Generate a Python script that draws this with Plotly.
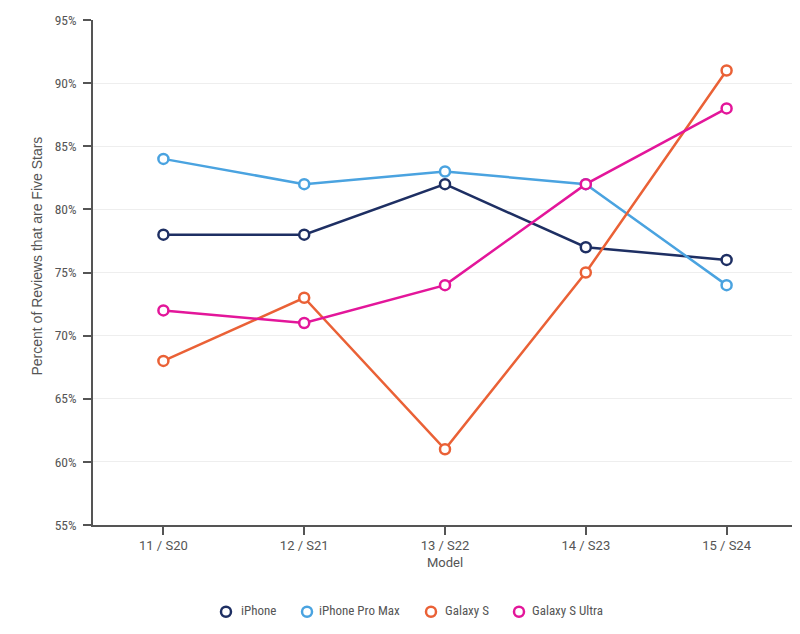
import plotly.graph_objects as go

models = ["11 / S20", "12 / S21", "13 / S22", "14 / S23", "15 / S24"]
iphone = [78, 78, 82, 77, 76]
iphone_pro_max = [84, 82, 83, 82, 74]
galaxy_s = [68, 73, 61, 75, 91]
galaxy_s_ultra = [72, 71, 74, 82, 88]
y_ticks = [55, 60, 65, 70, 75, 80, 85, 90, 95]
y_tick_labels = [f"{v}%" for v in y_ticks]

series = [
    ("iPhone", iphone, "#1e2f63"),
    ("iPhone Pro Max", iphone_pro_max, "#4aa3e0"),
    ("Galaxy S", galaxy_s, "#ea6136"),
    ("Galaxy S Ultra", galaxy_s_ultra, "#e3169a"),
]
legend_x = [0.1605, 0.2756, 0.4517, 0.5767]
legend_text_x = [0.2074, 0.3182, 0.4972, 0.6207]
legend_ids = ["legend", "legend2", "legend3", "legend4"]

fig = go.Figure()
for name, vals, col in series:
    fig.add_trace(go.Scatter(
        x=models, y=vals, mode="lines+markers", name=name, showlegend=False,
        line=dict(color=col, width=2.5),
        marker=dict(size=10, color="white", line=dict(color=col, width=2.5)),
        hovertemplate="%{x}: %{y}%<extra>" + name + "</extra>",
    ))
for (name, vals, col), lid in zip(series, legend_ids):
    fig.add_trace(go.Scatter(
        x=[None], y=[None], mode="markers", name="", legend=lid,
        marker=dict(size=10, color="white", line=dict(color=col, width=2.5)),
    ))

narrow = "'Liberation Sans Narrow', 'Roboto Condensed', Roboto, sans-serif"
roboto = "Roboto, sans-serif"
arial = "'Liberation Sans', Arial, sans-serif"
grey = "#555555"

legend_common = dict(
    orientation="h", xanchor="left", y=-0.143, yanchor="top",
    font=dict(size=12, color=grey), itemwidth=30, bgcolor="rgba(0,0,0,0)",
)
layout_legends = {}
for lid, lx in zip(legend_ids, legend_x):
    layout_legends[lid] = dict(x=lx, **legend_common)

annotations = []
for (name, vals, col), tx in zip(series, legend_text_x):
    annotations.append(dict(
        text=name, xref="paper", yref="paper", x=tx, y=-0.170,
        xanchor="left", yanchor="middle", showarrow=False,
        font=dict(family=narrow, size=13, color=grey),
    ))
annotations.append(dict(
    text="Percent of Reviews that are Five Stars", xref="paper", yref="paper",
    x=-0.08, y=0.533, textangle=-90, xanchor="center", yanchor="middle",
    showarrow=False, font=dict(family=arial, size=14, color=grey),
))

fig.update_layout(
    width=792, height=626,
    margin=dict(l=85, r=3, t=12, b=109, autoexpand=False),
    paper_bgcolor="white", plot_bgcolor="white",
    font=dict(family=narrow, size=13, color=grey),
    xaxis=dict(
        type="category", range=[-0.5, 4.5],
        showline=True, linecolor=grey, linewidth=1.5,
        ticks="outside", ticklen=8, tickcolor=grey, tickwidth=1.5,
        showgrid=False, zeroline=False,
        title=dict(text="Model", font=dict(family=roboto, size=13, color=grey), standoff=6),
        tickfont=dict(family=roboto, size=13, color=grey),
    ),
    yaxis=dict(
        range=[55, 95], tickmode="array", tickvals=y_ticks, ticktext=y_tick_labels,
        showline=True, linecolor=grey, linewidth=1.5,
        ticks="outside", ticklen=8, tickcolor=grey, tickwidth=1.5, ticklabelstandoff=4,
        showgrid=True, gridcolor="#eeeeee", gridwidth=1, zeroline=False,
        tickfont=dict(family=narrow, size=13.5, color=grey),
    ),
    shapes=[dict(
        type="line", xref="paper", yref="paper", x0=-10 / 704, x1=0, y0=0, y1=0,
        line=dict(color=grey, width=1.5), layer="above",
    )],
    annotations=annotations,
    **layout_legends,
)

fig.write_html("out.html")
